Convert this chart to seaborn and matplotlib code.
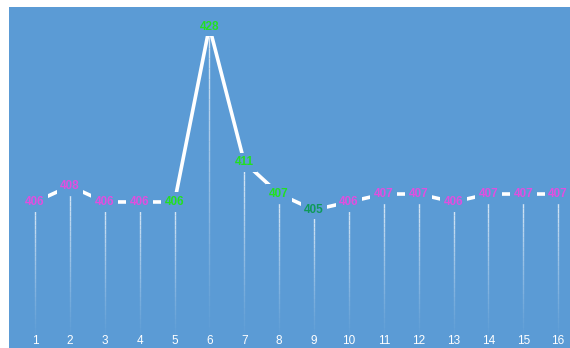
import matplotlib
matplotlib.use("Agg")
import matplotlib.pyplot as plt
import seaborn as sns
import numpy as np
import pandas as pd

x_labels = ["1", "2", "3", "4", "5", "6", "7", "8", "9", "10", "11", "12", "13", "14", "15", "16"]
values = [406, 408, 406, 406, 406, 428, 411, 407, 405, 406, 407, 407, 406, 407, 407, 407]
label_group = ["a", "a", "a", "a", "b", "b", "b", "b", "c", "a", "a", "a", "a", "a", "a", "a"]

group_colors = {"a": "#e04fe0", "b": "#22e022", "c": "#0f9a5a"}
BG = "#5b9bd5"

sns.set_theme(style="white")
plt.rcParams['font.family'] = ['Liberation Sans', 'DejaVu Sans']

df = pd.DataFrame({"x": np.arange(1, len(values) + 1), "v": values, "g": label_group})

fig = plt.figure(figsize=(5.70, 3.48), dpi=100)
fig.patch.set_facecolor("white")
ax = fig.add_axes([9 / 570, 0, 1 - 9 / 570, 1 - 7 / 348])
ax.set_facecolor(BG)
for s in ax.spines.values():
    s.set_visible(False)

ymin, ymax = 387.65, 430.5
ax.set_ylim(ymin, ymax)
ax.set_xlim(0.254, 16.34)
line_end = 389.0

# fading drop lines
nseg = 30
for xi, vi in zip(df["x"], df["v"]):
    edges = np.linspace(vi, line_end, nseg + 1)
    for k in range(nseg):
        a = 0.8 * (1 - k / nseg) ** 1.2
        ax.plot([xi, xi], [edges[k], edges[k + 1]], color="white", alpha=a,
                lw=1.0, solid_capstyle="butt", zorder=1)

sns.lineplot(data=df, x="x", y="v", ax=ax, color="white", lw=2.6, zorder=2)

for xi, vi, g in zip(df["x"], df["v"], df["g"]):
    ax.text(xi, vi, str(vi), ha="center", va="center", fontsize=8.5,
            fontweight="bold", color=group_colors[g], zorder=3,
            bbox=dict(boxstyle="square,pad=0.3", fc=BG, ec="none"))

for xi, lab in zip(df["x"], x_labels):
    ax.text(xi, 0.003, lab, transform=ax.get_xaxis_transform(), ha="center",
            va="bottom", fontsize=8.5, color="white")

ax.set_xticks([])
ax.set_yticks([])
ax.set_xlabel("")
ax.set_ylabel("")

fig.savefig("out.png", dpi=100)
